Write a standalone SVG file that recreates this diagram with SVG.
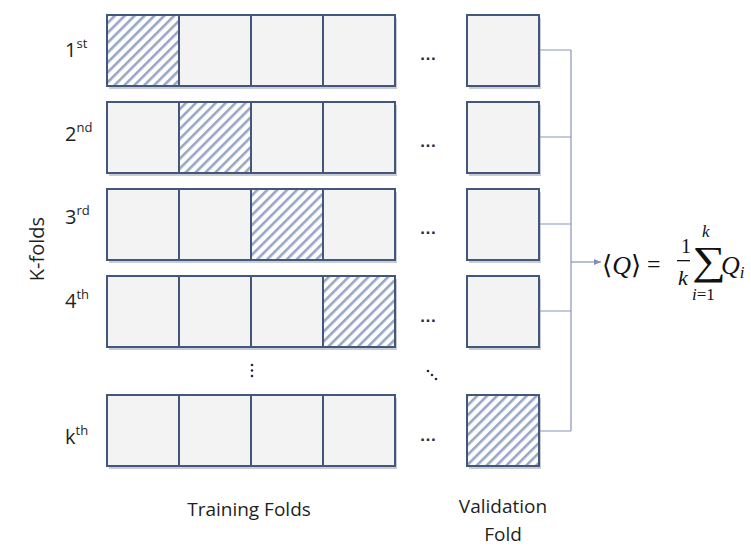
<svg xmlns="http://www.w3.org/2000/svg" width="751" height="556" viewBox="0 0 751 556">
<defs>
<pattern id="hatch" patternUnits="userSpaceOnUse" width="7" height="7" patternTransform="rotate(45)">
<rect width="7" height="7" fill="#ffffff"/>
<rect x="0" y="0" width="2.6" height="7" fill="#97a6c4"/>
</pattern>
<marker id="arr" markerWidth="8" markerHeight="8" refX="7" refY="4" orient="auto" markerUnits="userSpaceOnUse">
<path d="M0,1 L7,4 L0,7 Z" fill="#7f90b0"/>
</marker>
</defs>
<style>
.cell{fill:#f2f3f2;stroke:#43567c;stroke-width:2}
.hat{fill:url(#hatch);stroke:#43567c;stroke-width:2}
.sh{fill:#c9ccd3}
.lbl{font-family:"Open Sans","Liberation Sans",sans-serif;fill:#1f1f1f}
.ell{font-family:"Liberation Sans",sans-serif;font-weight:bold;fill:#1f2b44}
.conn{fill:none;stroke:#8797b6;stroke-width:1.2}
.m{font-family:"Liberation Serif","DejaVu Serif",serif;fill:#111}
.dot{fill:#1f2b44}
</style>
<rect width="751" height="556" fill="#ffffff"/>

<g id="row1">
<rect class="sh" x="109" y="18" width="288" height="71"/>
<rect class="hat" x="107" y="15" width="72" height="71"/>
<rect class="cell" x="179" y="15" width="72" height="71"/>
<rect class="cell" x="251" y="15" width="72" height="71"/>
<rect class="cell" x="323" y="15" width="72" height="71"/>
<text class="lbl" x="65" y="57" font-size="20">1<tspan font-size="13" dy="-9">st</tspan></text>
<text class="ell" x="428" y="60" font-size="17" text-anchor="middle">…</text>
</g>
<g id="row2">
<rect class="sh" x="109" y="105" width="288" height="71"/>
<rect class="cell" x="107" y="102" width="72" height="71"/>
<rect class="hat" x="179" y="102" width="72" height="71"/>
<rect class="cell" x="251" y="102" width="72" height="71"/>
<rect class="cell" x="323" y="102" width="72" height="71"/>
<text class="lbl" x="65" y="141" font-size="20">2<tspan font-size="13" dy="-9">nd</tspan></text>
<text class="ell" x="428" y="147" font-size="17" text-anchor="middle">…</text>
</g>
<g id="row3">
<rect class="sh" x="109" y="192" width="288" height="71"/>
<rect class="cell" x="107" y="189" width="72" height="71"/>
<rect class="cell" x="179" y="189" width="72" height="71"/>
<rect class="hat" x="251" y="189" width="72" height="71"/>
<rect class="cell" x="323" y="189" width="72" height="71"/>
<text class="lbl" x="65" y="224" font-size="20">3<tspan font-size="13" dy="-9">rd</tspan></text>
<text class="ell" x="428" y="234" font-size="17" text-anchor="middle">…</text>
</g>
<g id="row4">
<rect class="sh" x="109" y="279" width="288" height="71"/>
<rect class="cell" x="107" y="276" width="72" height="71"/>
<rect class="cell" x="179" y="276" width="72" height="71"/>
<rect class="cell" x="251" y="276" width="72" height="71"/>
<rect class="hat" x="323" y="276" width="72" height="71"/>
<text class="lbl" x="65" y="308" font-size="20">4<tspan font-size="13" dy="-9">th</tspan></text>
<text class="ell" x="428" y="322" font-size="17" text-anchor="middle">…</text>
</g>
<g id="rowk">
<rect class="sh" x="109" y="398" width="288" height="71"/>
<rect class="cell" x="107" y="395" width="72" height="71"/>
<rect class="cell" x="179" y="395" width="72" height="71"/>
<rect class="cell" x="251" y="395" width="72" height="71"/>
<rect class="cell" x="323" y="395" width="72" height="71"/>
<text class="lbl" x="65" y="444" font-size="20">k<tspan font-size="13" dy="-9">th</tspan></text>
<text class="ell" x="428" y="441" font-size="17" text-anchor="middle">…</text>
</g>

<g id="val1"><rect class="sh" x="469" y="18" width="72" height="71"/><rect class="cell" x="467" y="15" width="72" height="71"/></g>
<g id="val2"><rect class="sh" x="469" y="105" width="72" height="71"/><rect class="cell" x="467" y="102" width="72" height="71"/></g>
<g id="val3"><rect class="sh" x="469" y="192" width="72" height="71"/><rect class="cell" x="467" y="189" width="72" height="71"/></g>
<g id="val4"><rect class="sh" x="469" y="279" width="72" height="71"/><rect class="cell" x="467" y="276" width="72" height="71"/></g>
<g id="valk"><rect class="sh" x="469" y="398" width="72" height="71"/><rect class="hat" x="467" y="395" width="72" height="71"/></g>

<g id="vdots">
<circle class="dot" cx="252" cy="365" r="1.3"/>
<circle class="dot" cx="252" cy="370.5" r="1.3"/>
<circle class="dot" cx="252" cy="376" r="1.3"/>
</g>
<g id="ddots">
<circle class="dot" cx="428" cy="371" r="1.3"/>
<circle class="dot" cx="432" cy="375" r="1.3"/>
<circle class="dot" cx="436" cy="379" r="1.3"/>
</g>

<g id="connectors">
<path class="conn" d="M540,50 H571 M540,137 H571 M540,224 H571 M540,311 H571 M540,431 H571 M571,50 V431"/>
<path class="conn" d="M571,262 H601" marker-end="url(#arr)"/>
</g>

<g id="formula">
<text class="m" x="602" y="274" font-size="26"><tspan>⟨</tspan><tspan font-style="italic">Q</tspan><tspan>⟩</tspan></text>
<text class="m" x="647" y="272" font-size="24">=</text>
<text class="m" x="681" y="253" font-size="20">1</text>
<rect x="677" y="260" width="13" height="1.3" fill="#111"/>
<text class="m" x="678" y="285" font-size="22" font-style="italic">k</text>
<text class="m" font-size="40" transform="translate(692,274) scale(1.18,1)">∑</text>
<text class="m" x="702" y="237" font-size="17" font-style="italic">k</text>
<text class="m" x="692" y="300" font-size="17"><tspan font-style="italic">i</tspan>=1</text>
<text class="m" x="721" y="274" font-size="26" font-style="italic">Q<tspan font-size="17" dy="4">i</tspan></text>
</g>

<g id="labels">
<text class="lbl" x="44" y="249" font-size="20" text-anchor="middle" transform="rotate(-90 44 249)">K-folds</text>
<text class="lbl" x="249" y="516" font-size="19" text-anchor="middle">Training Folds</text>
<text class="lbl" x="503" y="513" font-size="19" text-anchor="middle">Validation</text>
<text class="lbl" x="503" y="541" font-size="19" text-anchor="middle">Fold</text>
</g>
</svg>
